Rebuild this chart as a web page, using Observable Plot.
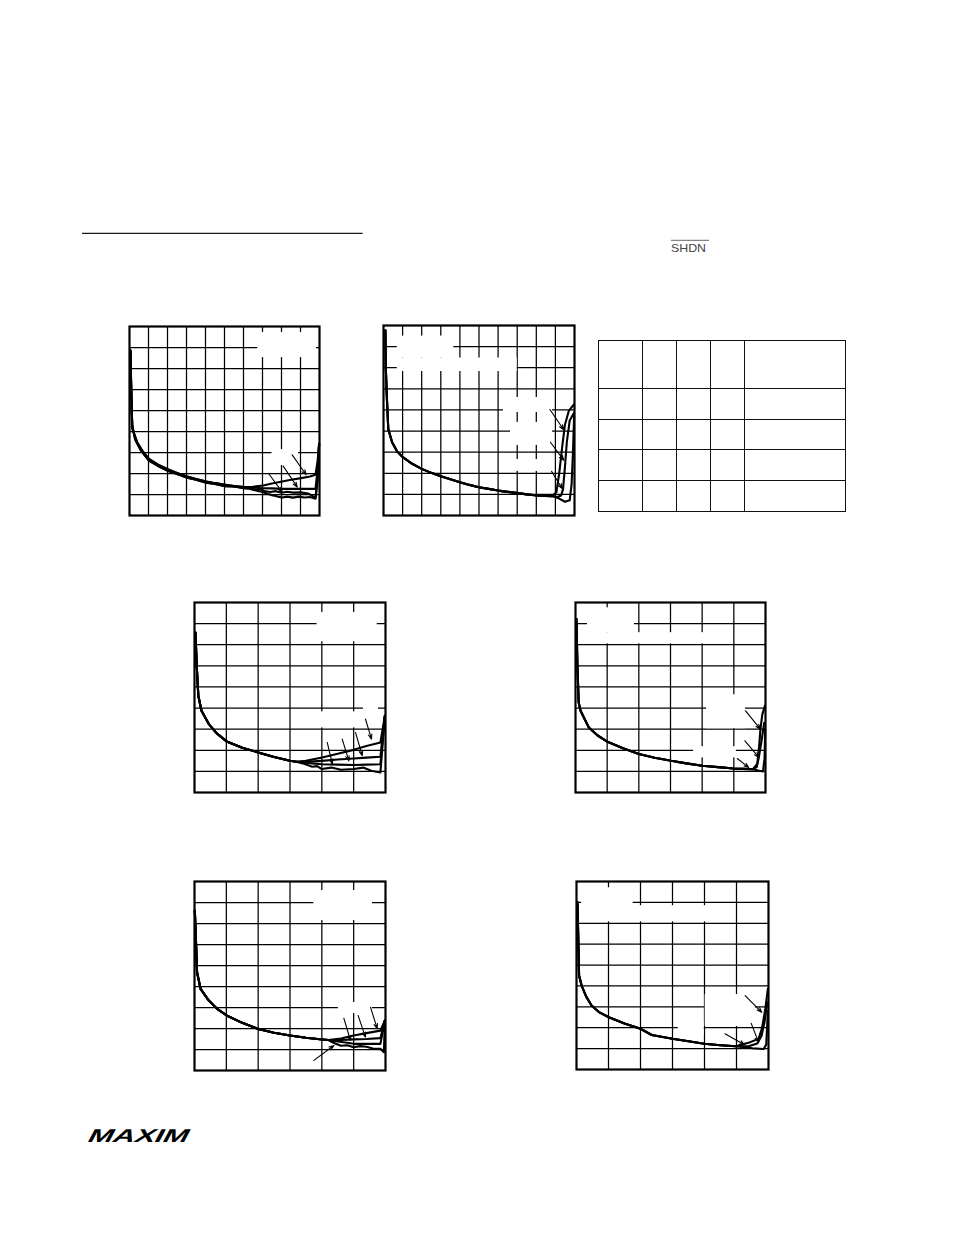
<!DOCTYPE html>
<html><head><meta charset="utf-8">
<script src="https://cdn.jsdelivr.net/npm/d3@7"></script>
<script src="https://cdn.jsdelivr.net/npm/@observablehq/plot@0.6"></script>
<style>
html,body{margin:0;padding:0;background:#fff;}
#page{position:relative;width:954px;height:1235px;overflow:hidden;background:#fff;font-family:"Liberation Sans",Arial,sans-serif;}
table.tc{position:absolute;left:598px;top:340px;border-collapse:collapse;table-layout:fixed;width:248px;height:172px;}
table.tc td{border:1.6px solid #111;padding:0;}
</style></head><body><div id="page"></div>
<script>
// ---------- Chart 1 (10 x 9 grid units) ----------
const c1Body = [[0.05,7.85],[0.08,6.5],[0.12,5.0],[0.15,4.13],[0.4,3.49],[0.7,3.05],[1.02,2.7],[1.5,2.42],[2.04,2.19],[2.5,2.02],[3.04,1.86],[3.5,1.74],[4.04,1.62],[4.5,1.54],[5.04,1.46],[5.5,1.4],[6.04,1.35]];
const c1Body2 = [[0.05,7.85],[0.09,6.0],[0.14,4.3],[0.3,3.62],[0.6,3.1],[1.02,2.62],[1.5,2.36],[2.04,2.12],[2.5,1.98],[3.04,1.8],[3.5,1.7],[4.04,1.56],[4.5,1.5],[5.04,1.4],[5.5,1.38],[6.04,1.3]];
const c1TailA = [[6.5,1.37],[7.04,1.43],[7.5,1.52],[8.04,1.62],[8.5,1.7],[9.04,1.78],[9.5,1.86],[9.79,1.94],[9.9,2.6],[9.98,3.41]];
const c1TailB = [[6.5,1.32],[7.04,1.3],[7.5,1.29],[8.04,1.27],[8.5,1.27],[9.04,1.27],[9.5,1.27],[9.79,1.27],[9.9,2.2],[9.98,3.41]];
const c1TailC = [[6.3,1.3],[6.6,1.22],[6.9,1.25],[7.1,1.17],[7.4,1.12],[7.7,1.16],[8.0,1.08],[8.3,1.13],[8.6,1.09],[9.0,1.1],[9.4,1.05],[9.79,0.85],[9.9,1.9],[9.98,3.41]];
const c1TailD = [[6.3,1.27],[6.6,1.2],[7.0,1.12],[7.3,1.02],[7.5,0.97],[7.8,0.9],[8.04,0.86],[8.3,0.9],[8.6,0.85],[8.9,0.9],[9.2,0.86],[9.5,0.88],[9.79,0.8],[9.9,1.6],[9.98,3.41]];
const c1Arrows = [{x1:8.56,y1:2.89,x2:9.3,y2:1.94},{x1:8.09,y1:2.35,x2:8.83,y2:1.35},{x1:7.33,y1:1.99,x2:8.04,y2:1.11}];
const c1Blanks = [{x1:6.75,x2:9.84,y1:7.52,y2:8.71},{x1:7.5,x2:8.9,y1:2.38,y2:3.14}];

// ---------- Chart 2 (10 x 9) ----------
const c2Body = [[0.1,8.77],[0.12,7.0],[0.18,5.5],[0.25,4.1],[0.45,3.47],[0.7,3.05],[1.01,2.76],[1.5,2.45],[2.0,2.21],[2.5,2.02],[3.0,1.86],[3.5,1.72],[4.0,1.58],[4.5,1.45],[4.99,1.34],[5.5,1.26],[6.0,1.18],[6.5,1.12],[7.05,1.06],[7.5,1.0],[8.05,0.95],[8.5,0.93],[8.83,0.92]];
const c2TailA = [[9.05,1.1],[9.2,2.0],[9.35,3.2],[9.5,4.3],[9.7,4.95],[9.96,5.25]];
const c2TailB = [[9.1,0.88],[9.3,0.95],[9.4,1.25],[9.5,2.3],[9.6,3.5],[9.75,4.5],[9.97,4.85]];
const c2TailC = [[9.2,0.8],[9.5,0.65],[9.75,0.72],[9.85,1.5],[9.92,3.0],[9.98,4.7]];
const c2Arrows = [{x1:8.71,y1:5.02,x2:9.44,y2:4.06},{x1:8.74,y1:3.47,x2:9.44,y2:2.61},{x1:8.8,y1:2.09,x2:9.36,y2:1.27}];
const c2Blanks = [{x1:0.72,x2:3.68,y1:7.46,y2:8.5},{x1:0.72,x2:7.0,y1:6.82,y2:7.46},{x1:6.28,x2:8.85,y1:4.88,y2:5.59},{x1:6.65,x2:8.85,y1:3.32,y2:4.41},{x1:6.65,x2:8.85,y1:2.09,y2:2.65}];

// ---------- Chart 3 (6 x 9) ----------
const c3Body = [[0.03,7.58],[0.07,6.0],[0.12,4.58],[0.22,3.87],[0.45,3.24],[0.7,2.8],[1.01,2.42],[1.5,2.12],[2.0,1.9],[2.5,1.68],[3.0,1.5],[3.2,1.46]];
const c3TailA = [[3.5,1.5],[4.01,1.66],[4.5,1.84],[5.0,2.02],[5.4,2.2],[5.84,2.37],[5.98,3.63]];
const c3TailB = [[3.5,1.45],[4.0,1.5],[4.5,1.56],[5.0,1.61],[5.4,1.65],[5.84,1.69],[5.98,3.63]];
const c3TailC = [[3.5,1.4],[4.0,1.34],[4.5,1.32],[5.0,1.3],[5.4,1.32],[5.84,1.34],[5.98,3.63]];
const c3TailD = [[3.4,1.38],[3.7,1.22],[3.85,1.25],[4.0,1.11],[4.3,1.18],[4.6,1.08],[5.0,1.11],[5.3,1.18],[5.55,1.03],[5.84,0.95],[5.98,3.63]];
const c3Arrows = [{x1:5.37,y1:3.48,x2:5.56,y2:2.53},{x1:5.06,y1:2.84,x2:5.27,y2:1.74},{x1:4.64,y1:2.53,x2:4.85,y2:1.5},{x1:4.17,y1:2.37,x2:4.33,y2:1.35}];
const c3Blanks = [{x1:3.85,x2:5.74,y1:7.14,y2:8.53},{x1:3.9,x2:5.53,y1:3.06,y2:3.82},{x1:5.31,x2:5.78,y1:3.68,y2:4.2}];

// ---------- Chart 4 (6 x 9) ----------
const c4Body = [[0.03,8.22],[0.06,6.0],[0.1,4.27],[0.16,3.87],[0.42,3.08],[0.7,2.7],[0.99,2.42],[1.5,2.1],[2.0,1.82],[2.5,1.65],[3.02,1.5],[3.5,1.38],[4.0,1.27],[4.5,1.2],[5.0,1.14],[5.3,1.12],[5.6,1.1]];
const c4TailA = [[5.74,1.35],[5.8,2.2],[5.84,3.0],[5.9,3.7],[5.98,4.1]];
const c4TailB = [[5.72,1.2],[5.79,1.66],[5.88,2.5],[5.96,3.3]];
const c4TailC = [[5.8,1.03],[5.92,1.0],[5.97,1.6],[5.99,3.0]];
const c4Arrows = [{x1:5.37,y1:3.87,x2:5.84,y2:3.0},{x1:5.35,y1:2.45,x2:5.79,y2:1.66},{x1:5.11,y1:1.61,x2:5.47,y2:1.18}];
const c4Blanks = [{x1:0.38,x2:1.86,y1:7.57,y2:8.75},{x1:0.38,x2:4.96,y1:7.04,y2:7.57},{x1:4.14,x2:5.37,y1:3.02,y2:4.63},{x1:3.73,x2:5.08,y1:1.64,y2:2.17}];

// ---------- Chart 5 (6 x 9) ----------
const c5Body = [[0.01,7.62],[0.05,6.0],[0.08,4.68],[0.19,3.89],[0.45,3.33],[0.7,2.95],[1.01,2.62],[1.5,2.27],[2.0,1.98],[2.5,1.8],[3.0,1.67],[3.5,1.56],[4.01,1.48],[4.2,1.45]];
const c5TailA = [[4.6,1.52],[5.0,1.67],[5.4,1.78],[5.84,1.9],[5.98,2.38]];
const c5TailB = [[4.6,1.45],[5.0,1.48],[5.4,1.5],[5.84,1.54],[5.98,2.38]];
const c5TailC = [[4.5,1.38],[4.8,1.32],[5.0,1.27],[5.4,1.27],[5.84,1.27],[5.98,2.38]];
const c5TailD = [[4.4,1.3],[4.6,1.18],[4.8,1.2],[5.0,1.11],[5.2,1.16],[5.4,1.13],[5.6,1.05],[5.84,1.03],[5.95,0.87],[5.98,2.38]];
const c5Arrows = [{x1:5.53,y1:3.01,x2:5.74,y2:1.99},{x1:5.14,y1:2.62,x2:5.37,y2:1.59},{x1:4.69,y1:2.49,x2:4.9,y2:1.43},{x1:3.75,y1:0.48,x2:4.38,y2:1.19}];
const c5Blanks = [{x1:3.75,x2:5.59,y1:7.14,y2:8.57},{x1:4.52,x2:5.59,y1:2.71,y2:3.24}];

// ---------- Chart 6 (6 x 9) ----------
const c6Body = [[0.03,8.0],[0.06,6.0],[0.08,4.5],[0.16,4.02],[0.3,3.5],[0.47,3.06],[0.7,2.75],[1.01,2.5],[1.5,2.2],[2.0,1.95],[2.35,1.65],[3.0,1.47],[3.5,1.35],[3.99,1.23],[4.5,1.16],[4.98,1.11]];
const c6TailA = [[5.43,1.31],[5.69,1.47],[5.8,2.0],[5.9,2.9],[5.98,3.86]];
const c6TailB = [[5.4,1.12],[5.65,1.25],[5.78,1.6],[5.88,2.3],[5.96,3.2]];
const c6TailC = [[5.5,1.02],[5.85,0.98],[5.93,1.2],[5.98,2.8]];
const c6Arrows = [{x1:5.27,y1:3.54,x2:5.79,y2:2.74},{x1:5.46,y1:2.21,x2:5.69,y2:1.3},{x1:4.64,y1:1.71,x2:5.25,y2:1.18}];
const c6Blanks = [{x1:0.16,x2:1.77,y1:7.07,y2:8.7},{x1:1.77,x2:4.97,y1:7.07,y2:7.84},{x1:4.02,x2:5.59,y1:2.06,y2:3.59},{x1:3.18,x2:3.99,y1:1.67,y2:2.25}];

// ---------- layout ----------
const charts = [
  {left:129, top:326, w:190, h:189, xDiv:10, yDiv:9, series:[c1Body.concat(c1TailA), c1Body.concat(c1TailB), c1Body2.concat(c1TailC), c1Body2.concat(c1TailD)], arrows:c1Arrows, blanks:c1Blanks},
  {left:383, top:325, w:191, h:190, xDiv:10, yDiv:9, series:[c2Body.concat(c2TailA), c2Body.concat(c2TailB), c2Body.concat(c2TailC)], arrows:c2Arrows, blanks:c2Blanks},
  {left:194, top:602, w:191, h:190, xDiv:6, yDiv:9, series:[c3Body.concat(c3TailA), c3Body.concat(c3TailB), c3Body.concat(c3TailC), c3Body.concat(c3TailD)], arrows:c3Arrows, blanks:c3Blanks},
  {left:575, top:602, w:190, h:190, xDiv:6, yDiv:9, series:[c4Body.concat(c4TailA), c4Body.concat(c4TailB), c4Body.concat(c4TailC)], arrows:c4Arrows, blanks:c4Blanks},
  {left:194, top:881, w:191, h:189, xDiv:6, yDiv:9, series:[c5Body.concat(c5TailA), c5Body.concat(c5TailB), c5Body.concat(c5TailC), c5Body.concat(c5TailD)], arrows:c5Arrows, blanks:c5Blanks},
  {left:576, top:881, w:192, h:188, xDiv:6, yDiv:9, series:[c6Body.concat(c6TailA), c6Body.concat(c6TailB), c6Body.concat(c6TailC)], arrows:c6Arrows, blanks:c6Blanks}
];

const page = document.getElementById("page");
const M = 3;
for (const c of charts) {
  const svg = Plot.plot({
    width: c.w + 2*M, height: c.h + 2*M, margin: M,
    x: {domain:[0, c.xDiv], axis:null},
    y: {domain:[0, c.yDiv], axis:null},
    style: {background:"transparent", overflow:"visible"},
    marks: [
      Plot.ruleX(d3.range(1, c.xDiv), {stroke:"#000", strokeWidth:1.25}),
      Plot.ruleY(d3.range(1, c.yDiv), {stroke:"#000", strokeWidth:1.25}),
      Plot.rect(c.blanks, {x1:"x1", x2:"x2", y1:"y1", y2:"y2", fill:"white"}),
      ...c.series.map(s => Plot.line(s, {stroke:"#000", strokeWidth:2.1, strokeLinejoin:"round", strokeLinecap:"round"})),
      Plot.arrow(c.arrows, {x1:"x1", y1:"y1", x2:"x2", y2:"y2", stroke:"#000", strokeWidth:1.1, headLength:7, headAngle:40}),
      Plot.frame({stroke:"#000", strokeWidth:2.2})
    ]
  });
  svg.style.position = "absolute";
  svg.style.left = (c.left - M) + "px";
  svg.style.top = (c.top - M) + "px";
  svg.style.maxWidth = "none";
  page.appendChild(svg);
}

// ---------- empty legend table ----------
const tableCols = ["c1","c2","c3","c4","c5"];
const tableRows = ["h","r1","r2","r3","r4"];
const colW = [44, 34.4, 34, 33.6, 101.4];
const rowH = [47.6, 31, 30, 31, 31.4];
const tbl = document.createElement("table");
tbl.className = "tc";
const cg = document.createElement("colgroup");
tableCols.forEach((k,i) => { const col = document.createElement("col"); col.style.width = colW[i] + "px"; cg.appendChild(col); });
tbl.appendChild(cg);
tableRows.forEach((r,ri) => {
  const tr = document.createElement("tr");
  tr.style.height = rowH[ri] + "px";
  tableCols.forEach(() => tr.appendChild(document.createElement("td")));
  tbl.appendChild(tr);
});
page.appendChild(tbl);

// ---------- page decorations ----------
const deco = document.createElementNS("http://www.w3.org/2000/svg","svg");
deco.setAttribute("width", 954); deco.setAttribute("height", 1235);
deco.style.position = "absolute"; deco.style.left = "0px"; deco.style.top = "0px";
deco.style.pointerEvents = "none";
deco.innerHTML = `
  <line x1="82" y1="233.3" x2="362.7" y2="233.3" stroke="#1a1a1a" stroke-width="1.3"/>
  <line x1="671" y1="240.3" x2="709" y2="240.3" stroke="#555" stroke-width="0.9"/>
  <text x="671" y="251.5" font-family="Liberation Sans, Arial, sans-serif" font-size="11.5" fill="#444" textLength="35" lengthAdjust="spacingAndGlyphs">SHDN</text>
  <g transform="translate(86,1141.7) skewX(-28)">
    <text x="0" y="0" font-family="Liberation Sans, Arial, sans-serif" font-weight="bold" font-size="18.5" fill="#000" textLength="100" lengthAdjust="spacingAndGlyphs">MAXIM</text>
  </g>`;
page.appendChild(deco);
</script></body></html>
